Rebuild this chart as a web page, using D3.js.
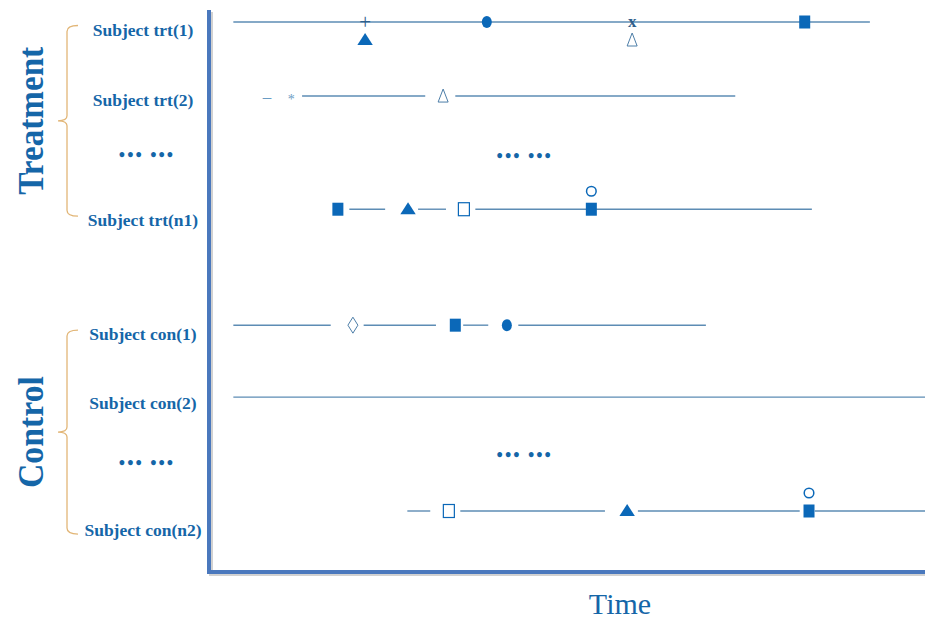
<!DOCTYPE html>
<html>
<head>
<meta charset="utf-8">
<script src="https://cdn.jsdelivr.net/npm/d3@7"></script>
<style>
  body { margin: 0; background: #fff; }
  svg { display: block; }
  .lbl { font-family: "Liberation Serif", serif; font-weight: bold; fill: #1566a8; }
</style>
</head>
<body>
<svg width="925" height="622"></svg>
<script>
const subjects = ["Subject trt(1)", "Subject trt(2)", "Subject trt(n1)", "Subject con(1)", "Subject con(2)", "Subject con(n2)"];
const rowPos = [0, 1.06, 2.68, 4.34, 5.37, 7];
const labelPos = [0.11, 1.12, 2.83, 4.46, 5.45, 7.27];
const dotRows = [1.92, 6.2];
const dotLabelRows = [1.9, 6.31];
const groups = ["Treatment", "Control"];
const segments = [
  [[3.4, 92.3]],
  [[13.0, 30.2], [34.4, 73.5]],
  [[19.6, 24.6], [29.2, 33.1], [37.2, 84.2]],
  [[3.4, 17.0], [21.6, 31.7], [35.5, 39.0], [43.2, 69.4]],
  [[3.4, 100]],
  [[27.7, 30.9], [35.1, 55.3], [59.9, 82.5], [84.6, 100]]
];
// [time, marker, level]  level: -1 above line, 0 on line, 1 below line
const events = [
  [[21.8, "plus", 0], [21.8, "triFill", 1], [38.8, "circFill", 0], [59.1, "cross", 0], [59.1, "triOpen", 1], [83.2, "sqFill", 0]],
  [[8.1, "dash", 0], [11.5, "star", 0], [32.7, "triOpen", 0]],
  [[18.0, "sqFill", 0], [27.8, "triFill", 0], [35.6, "sqOpen", 0], [53.4, "sqFill", 0], [53.4, "circOpen", -1]],
  [[20.1, "diamondOpen", 0], [34.4, "sqFill", 0], [41.6, "circFill", 0]],
  [],
  [[33.5, "sqOpen", 0], [58.4, "triFill", 0], [83.8, "sqFill", 0], [83.8, "circOpen", -1]]
];

const blue = "#0b68b8";
const lineCol = "#5d8cb4";
const axisCol = "#4a78bd";

const svg = d3.select("svg");
const x = d3.scaleLinear().domain([0, 100]).range([209, 925]);
const y = d3.scaleLinear().domain([0, 7]).range([22, 511]);

// axes (no ticks, just the frame)
const axisG = svg.append("g");
axisG.append("path")
  .attr("d", `M${x(0) + 2},12V${574}H925`)
  .attr("fill", "none").attr("stroke", "#999").attr("stroke-opacity", 0.45).attr("stroke-width", 4);
axisG.append("path")
  .attr("d", `M${x(0)},10V${572}H925`)
  .attr("fill", "none").attr("stroke", axisCol).attr("stroke-width", 4);

// subject timelines
const rowG = svg.append("g").selectAll("g")
  .data(subjects.map((s, i) => ({ name: s, pos: rowPos[i], seg: segments[i], ev: events[i] })))
  .enter().append("g")
  .attr("transform", d => "translate(0," + y(d.pos) + ")");

rowG.selectAll("line")
  .data(d => d.seg)
  .enter().append("line")
  .attr("x1", d => x(d[0])).attr("x2", d => x(d[1]))
  .attr("stroke", lineCol).attr("stroke-width", 1.4);

const levelGap = 18;
rowG.selectAll("g.ev")
  .data(d => d.ev)
  .enter().append("g")
  .attr("class", "ev")
  .attr("transform", d => "translate(" + x(d[0]) + "," + d[2] * levelGap + ")")
  .each(function (d) {
    const g = d3.select(this);
    const t = d[1];
    if (t === "sqFill" || t === "sqOpen") {
      g.append("rect").attr("x", -5.5).attr("y", -6.5).attr("width", 11).attr("height", 13)
        .attr("fill", t === "sqFill" ? blue : "#fff").attr("stroke", blue).attr("stroke-width", t === "sqFill" ? 0 : 1.2);
    } else if (t === "triFill") {
      g.append("path").attr("d", d3.symbol(d3.symbolTriangle, 85)()).attr("transform", "translate(0,1) scale(1.1,1)")
        .attr("fill", blue);
    } else if (t === "triOpen") {
      g.append("path").attr("d", "M0,-7L5,6H-5Z").attr("fill", "none").attr("stroke", "#4d7ea8").attr("stroke-width", 1);
    } else if (t === "circFill") {
      g.append("ellipse").attr("rx", 5).attr("ry", 6).attr("fill", blue);
    } else if (t === "circOpen") {
      g.append("circle").attr("r", 4.8).attr("fill", "#fff").attr("stroke", blue).attr("stroke-width", 1.5);
    } else if (t === "diamondOpen") {
      g.append("path").attr("d", "M0,-8L5,0L0,8L-5,0Z").attr("fill", "#fff").attr("stroke", "#4d7ea8").attr("stroke-width", 1);
    } else {
      const glyph = { plus: "+", cross: "x", star: "*", dash: "\u2013" }[t];
      g.append("text").attr("text-anchor", "middle").attr("dy", t === "star" ? "0.6em" : "0.32em")
        .style("font-family", "Liberation Serif, serif")
        .style("font-weight", t === "cross" ? "bold" : "normal")
        .style("font-size", t === "star" ? "14px" : t === "plus" ? "21px" : "17px")
        .attr("fill", t === "star" || t === "dash" ? "#6a9cc4" : "#2f5f8c")
        .text(glyph);
    }
  });

// ellipsis rows in the plot and next to the labels
svg.selectAll("text.pdots")
  .data(dotRows)
  .enter().append("text")
  .attr("class", "lbl pdots")
  .attr("x", x(44.1)).attr("y", d => y(d)).attr("dy", "0.35em")
  .attr("text-anchor", "middle")
  .style("font-size", "18px").style("letter-spacing", "2px")
  .text("\u2022\u2022\u2022 \u2022\u2022\u2022");

svg.selectAll("text.ldots")
  .data(dotLabelRows)
  .enter().append("text")
  .attr("class", "lbl ldots")
  .attr("x", 147).attr("y", d => y(d)).attr("dy", "0.35em")
  .attr("text-anchor", "middle")
  .style("font-size", "18px").style("letter-spacing", "2px")
  .text("\u2022\u2022\u2022 \u2022\u2022\u2022");

// subject labels
svg.selectAll("text.subj")
  .data(subjects)
  .enter().append("text")
  .attr("class", "lbl subj")
  .attr("x", 143).attr("y", (d, i) => y(labelPos[i])).attr("dy", "0.35em")
  .attr("text-anchor", "middle")
  .style("font-size", "17.5px")
  .text(d => d);

// braces and group titles
function brace(top, bottom) {
  const mid = (top + bottom) / 2;
  const p = d3.path();
  p.moveTo(78, top);
  p.quadraticCurveTo(67, top, 67, top + 6);
  p.lineTo(67, mid - 5);
  p.quadraticCurveTo(67, mid, 58, mid);
  p.quadraticCurveTo(67, mid, 67, mid + 5);
  p.lineTo(67, bottom - 6);
  p.quadraticCurveTo(67, bottom, 78, bottom);
  return p.toString();
}
const groupSpan = [[labelPos[0] - 0.06, labelPos[2] - 0.05], [labelPos[3] - 0.05, labelPos[5] + 0.06]];
svg.selectAll("path.brace")
  .data(groupSpan)
  .enter().append("path")
  .attr("class", "brace")
  .attr("d", d => brace(y(d[0]), y(d[1])))
  .attr("fill", "none").attr("stroke", "#e2b677").attr("stroke-width", 1.3);

svg.selectAll("text.grp")
  .data(groups)
  .enter().append("text")
  .attr("class", "lbl grp")
  .attr("transform", (d, i) => "translate(43," + (y(groupSpan[i][0]) + y(groupSpan[i][1])) / 2 + ") rotate(-90)")
  .attr("text-anchor", "middle")
  .style("font-size", "36px")
  .attr("fill", "#1f6fb0")
  .attr("textLength", (d, i) => i === 0 ? 148 : 112)
  .attr("lengthAdjust", "spacingAndGlyphs")
  .text(d => d);

// x title
svg.append("text")
  .attr("class", "lbl")
  .attr("x", 620).attr("y", 614)
  .attr("text-anchor", "middle")
  .style("font-size", "30px").style("font-weight", "normal")
  .attr("fill", "#1a62a0")
  .text("Time");
</script>
</body>
</html>
